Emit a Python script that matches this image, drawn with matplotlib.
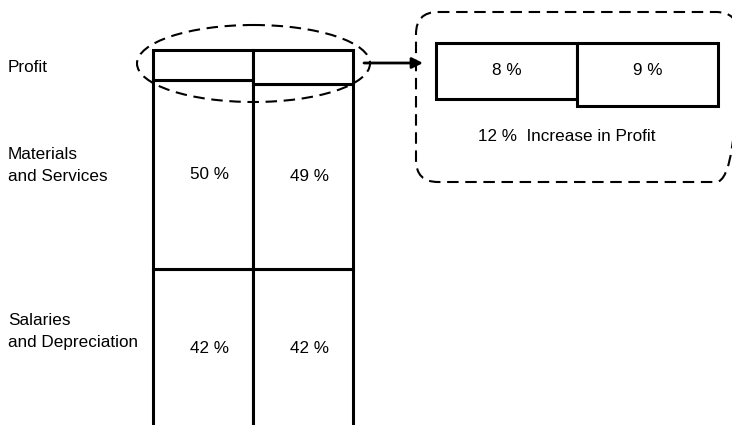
import matplotlib
matplotlib.use('Agg')
import matplotlib.pyplot as plt
from matplotlib.patches import Ellipse, FancyBboxPatch
from matplotlib.transforms import blended_transform_factory

plt.rcParams['font.family'] = ['Liberation Sans', 'DejaVu Sans']

# cost structure, bottom to top, for the two columns
categories = ['Salaries\nand Depreciation', 'Materials\nand Services', 'Profit']
col_a = [42, 50, 8]
col_b = [42, 49, 9]
profit = [col_a[2], col_b[2]]
increase_txt = '12 %  Increase in Profit'

# where the row captions sit, in bar units (0..100)
caption_y = [25.5, 69.5, 95.5]

W, H = 732, 425
fig = plt.figure(figsize=(W / 100, H / 100), dpi=100)

def px(x0, y0, x1, y1):
    # pixel box (top-left origin) -> figure fraction rect
    return [x0 / W, (H - y1) / H, (x1 - x0) / W, (y1 - y0) / H]

lw = 2.2
fs = 12.3

# stacked columns
ax = fig.add_axes(px(153, 50, 353, 428))
for i, col in enumerate([col_a, col_b]):
    bottom = 0
    for j, v in enumerate(col):
        ax.bar(i, v, width=1, bottom=bottom, facecolor='white',
               edgecolor='black', lw=lw, clip_on=False)
        if j < 2:
            ax.text(i + 0.07, bottom + v / 2, f'{v} %', ha='center',
                    va='center', fontsize=fs)
        bottom += v
ax.set_xlim(-0.5, 1.5)
ax.set_ylim(0, 100)
ax.axis('off')

# row captions on the left
trans = blended_transform_factory(fig.transFigure, ax.transData)
for name, y in zip(categories, caption_y):
    ax.text(8 / W, y, name, transform=trans, fontsize=fs,
            ha='left', va='center', linespacing=1.6)

# close-up of the profit slices
ax2 = fig.add_axes(px(436, 43, 718, 148))
ax2.bar([0.5, 1.5], profit, width=1, bottom=0, facecolor='white',
        edgecolor='black', lw=lw, clip_on=False)
for x, v in zip([0.5, 1.5], profit):
    ax2.text(x, 3.9, f'{v} %', ha='center', va='center', fontsize=fs)
ax2.text(0.93, 13.4, increase_txt, ha='center', va='center', fontsize=fs)
ax2.set_xlim(0, 2)
ax2.set_ylim(15, 0)
ax2.axis('off')

# dashed ellipse, callout box and arrow
ov = fig.add_axes([0, 0, 1, 1])
ov.set_xlim(0, W)
ov.set_ylim(H, 0)
ov.axis('off')
dash = (0, (5.5, 3.2))
ov.add_patch(Ellipse((253.5, 63.5), 233, 77, fill=False, ec='black',
                     lw=1.5, ls=dash))
ov.add_patch(FancyBboxPatch((416, 12), 322, 170,
                            boxstyle='round,pad=0,rounding_size=22',
                            fill=False, ec='black', lw=1.5, ls=dash,
                            clip_on=False))
ov.annotate('', xy=(423, 63), xytext=(364, 63),
            arrowprops=dict(arrowstyle='-|>', color='black', lw=2,
                            mutation_scale=16, shrinkA=0, shrinkB=0))

plt.savefig('out.png', dpi=100, facecolor='white')
